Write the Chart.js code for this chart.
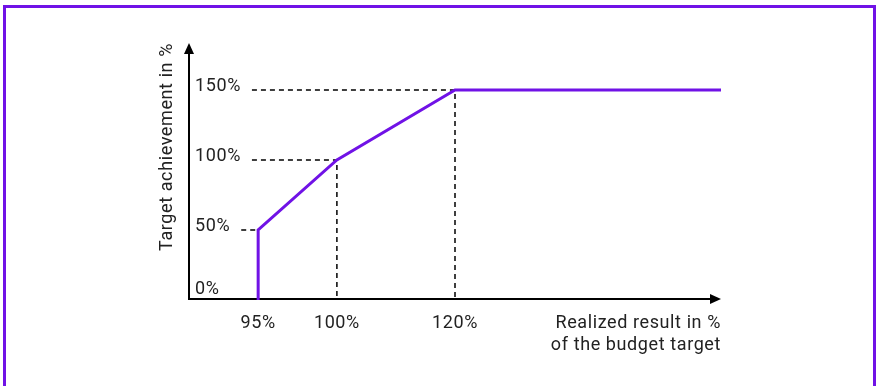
<!DOCTYPE html>
<html>
<head>
<meta charset="utf-8">
<script src="https://cdn.jsdelivr.net/npm/chart.js@4/dist/chart.umd.min.js"></script>
<style>
  html, body { margin: 0; padding: 0; background: #fff; overflow: hidden; }
  #wrap { position: relative; width: 876px; height: 386px; }
  #frame { position: absolute; left: 3px; top: 5px; width: 873px; height: 420px;
           border: 3px solid #7012e6; box-sizing: border-box; }
  canvas { position: absolute; left: 0; top: 0; }
</style>
</head>
<body>
<div id="wrap">
  <div id="frame"></div>
  <canvas id="bonusChart" width="876" height="386"></canvas>
</div>
<script>
// data
const realized    = [95, 95, 100, 120, 140];   // realized result, % of budget
const achievement = [0, 50, 100, 150, 150];    // target achievement, %
const guidePoints = [95, 100, 120];            // breakpoints that get dashed guides
const xTickValues = [95, 100, 120];
const xTickLabels = ['95%', '100%', '120%'];
const yTickValues = [0, 50, 100, 150];
const yTickLabels = ['0%', '50%', '100%', '150%'];

const purple = '#7012e6';
const ink = '#222';
const font = '18px Roboto, "Open Sans", sans-serif';

// the x axis in the picture is schematic (not to scale), so use a piecewise linear scale
const xBreakValues = [90, 95, 100, 120, 140];
const xBreakDecimals = [0, 0.13, 0.278, 0.5, 1];

class SchematicScale extends Chart.LinearScale {
  getPixelForValue(value) {
    if (value === null || value === undefined) return NaN;
    let i = 1;
    while (i < xBreakValues.length - 1 && value > xBreakValues[i]) i++;
    const t = (value - xBreakValues[i - 1]) / (xBreakValues[i] - xBreakValues[i - 1]);
    return this.getPixelForDecimal(xBreakDecimals[i - 1] + t * (xBreakDecimals[i] - xBreakDecimals[i - 1]));
  }
}
SchematicScale.id = 'schematic';
SchematicScale.defaults = Chart.LinearScale.defaults;
Chart.register(SchematicScale);

// Plugin to draw the arrow axes, dashed guides and labels
const schematicAxes = {
  id: 'schematicAxes',
  beforeDatasetsDraw(chart) {
    const { ctx, scales: { x, y } } = chart;
    const ax = x.left, ay = y.bottom;
    ctx.save();
    ctx.font = font;
    ctx.letterSpacing = '0.6px';

    // dashed guides
    ctx.strokeStyle = '#000';
    ctx.lineWidth = 1.5;
    ctx.setLineDash([5, 4]);
    guidePoints.forEach(v => {
      const idx = realized.lastIndexOf(v);
      const px = x.getPixelForValue(v);
      const py = y.getPixelForValue(achievement[idx]);
      const label = yTickLabels[yTickValues.indexOf(achievement[idx])];
      const startX = ax + 6 + ctx.measureText(label).width + 11;
      ctx.beginPath();
      ctx.moveTo(startX, py);
      ctx.lineTo(px, py);
      ctx.lineTo(px, ay);
      ctx.stroke();
    });
    ctx.setLineDash([]);

    // axes with arrows
    ctx.lineWidth = 2;
    ctx.fillStyle = '#000';
    const yTip = y.top - 47, xTip = x.right;
    ctx.beginPath();
    ctx.moveTo(ax, ay);
    ctx.lineTo(ax, yTip + 8);
    ctx.moveTo(ax - 1, ay - 1);
    ctx.lineTo(xTip - 8, ay - 1);
    ctx.stroke();
    ctx.beginPath();
    ctx.moveTo(ax, yTip);
    ctx.lineTo(ax - 5, yTip + 11);
    ctx.lineTo(ax + 5, yTip + 11);
    ctx.closePath();
    ctx.fill();
    ctx.beginPath();
    ctx.moveTo(xTip, ay - 1);
    ctx.lineTo(xTip - 11, ay - 6);
    ctx.lineTo(xTip - 11, ay + 4);
    ctx.closePath();
    ctx.fill();

    // tick labels
    ctx.fillStyle = ink;
    ctx.textAlign = 'left';
    ctx.textBaseline = 'alphabetic';
    yTickValues.forEach((v, i) => {
      const py = Math.min(y.getPixelForValue(v) + 1, ay - 6);
      ctx.fillText(yTickLabels[i], ax + 6, py);
    });
    ctx.textAlign = 'center';
    xTickValues.forEach((v, i) => {
      ctx.fillText(xTickLabels[i], x.getPixelForValue(v), ay + 28);
    });

    // axis titles
    ctx.textAlign = 'right';
    ctx.fillText('Realized result in %', xTip, ay + 28);
    ctx.fillText('of the budget target', xTip, ay + 50);
    ctx.save();
    ctx.translate(ax - 17, yTip);
    ctx.rotate(-Math.PI / 2);
    ctx.textAlign = 'right';
    ctx.fillText('Target achievement in %', 0, 0);
    ctx.restore();

    ctx.restore();
  }
};

const ctx = document.getElementById('bonusChart').getContext('2d');
const chart = new Chart(ctx, {
  type: 'line',
  data: {
    datasets: [{
      data: realized.map((v, i) => ({ x: v, y: achievement[i] })),
      borderColor: purple,
      borderWidth: 3,
      pointRadius: 0,
      fill: false,
      tension: 0,
      clip: false
    }]
  },
  options: {
    responsive: false,
    animation: false,
    layout: { padding: { left: 189, right: 155, top: 90, bottom: 86 } },
    plugins: { legend: { display: false }, tooltip: { enabled: false } },
    scales: {
      x: { type: 'schematic', min: 90, max: 140, display: false },
      y: { type: 'linear', min: 0, max: 150, display: false }
    }
  },
  plugins: [schematicAxes]
});
</script>
</body>
</html>
